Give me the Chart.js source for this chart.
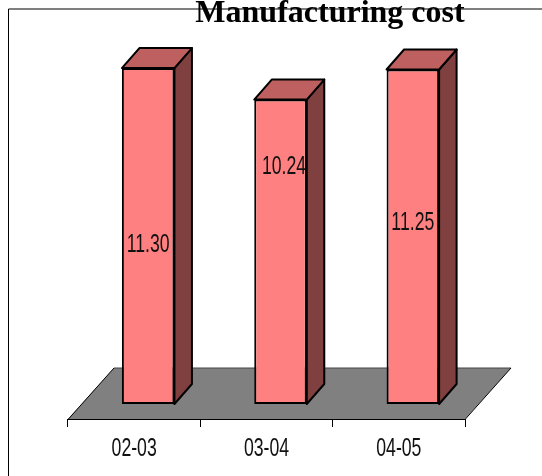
<!DOCTYPE html>
<html>
<head>
<meta charset="utf-8">
<style>
  html, body { margin: 0; padding: 0; background: #fff; }
  canvas { display: block; }
</style>
<script src="https://cdn.jsdelivr.net/npm/chart.js@4"></script>
</head>
<body>
<canvas id="chart" width="542" height="476"></canvas>
<script>
// Values
const chartTitle = "Manufacturing cost";
const years = ["02-03", "03-04", "04-05"];
const costs = [11.3, 10.24, 11.25];

// Hand placed value labels, px from the middle of each bar
const labelShiftX = [0, 3.5, 0];
const labelShiftY = [8.5, -85, -13.5];

// Fake 3D depth
const floorDepth = { x: 46, y: 51 };
const barDepth = { x: 17.5, y: 20 };
const barLift = { x: 14, y: -15 };

// Narrow tall text like the original picture
function tallText(ctx, text, x, y) {
  ctx.save();
  ctx.translate(x, y);
  ctx.scale(0.68, 1);
  ctx.font = "26px 'Liberation Sans'";
  ctx.fillStyle = "#111";
  ctx.textAlign = "center";
  ctx.textBaseline = "middle";
  ctx.fillText(text, 0, 0);
  ctx.restore();
}

function poly(ctx, points, fill, stroke, width) {
  ctx.beginPath();
  points.forEach((p, i) => (i ? ctx.lineTo(p[0], p[1]) : ctx.moveTo(p[0], p[1])));
  ctx.closePath();
  ctx.fillStyle = fill;
  ctx.fill();
  if (stroke) {
    ctx.lineWidth = width;
    ctx.lineJoin = "round";
    ctx.strokeStyle = stroke;
    ctx.stroke();
  }
}

const box3d = {
  id: "box3d",
  beforeDraw(chart) {
    const ctx = chart.ctx;
    ctx.save();
    ctx.fillStyle = "#fff";
    ctx.fillRect(0, 0, chart.width, chart.height);

    // Outer frame, open to the right and bottom
    ctx.strokeStyle = "#000";
    ctx.lineWidth = 1;
    ctx.beginPath();
    ctx.moveTo(8.5, chart.height);
    ctx.lineTo(8.5, 9);
    ctx.lineTo(chart.width, 9);
    ctx.stroke();

    // Floor
    const { left, right, bottom } = chart.chartArea;
    poly(ctx, [
      [left, bottom],
      [right, bottom],
      [right + floorDepth.x, bottom - floorDepth.y],
      [left + floorDepth.x, bottom - floorDepth.y],
    ], "#808080");
    ctx.strokeStyle = "#444";
    ctx.lineWidth = 1;
    ctx.beginPath();
    ctx.moveTo(left + floorDepth.x, bottom - floorDepth.y);
    ctx.lineTo(right + floorDepth.x, bottom - floorDepth.y);
    ctx.stroke();
    ctx.strokeStyle = "#000";
    ctx.beginPath();
    ctx.moveTo(left + floorDepth.x, bottom - floorDepth.y);
    ctx.lineTo(left, bottom + 0.5);
    ctx.lineTo(right, bottom + 0.5);
    ctx.lineTo(right + floorDepth.x, bottom - floorDepth.y);
    ctx.stroke();
    ctx.restore();
  },
  beforeDatasetsDraw(chart) {
    const ctx = chart.ctx;
    ctx.save();
    // Bars stand in the middle of the floor, not on its front edge
    ctx.translate(barLift.x, barLift.y);
    chart.getDatasetMeta(0).data.forEach((bar) => {
      const l = bar.x - bar.width / 2;
      const r = bar.x + bar.width / 2;
      const dx = barDepth.x;
      const dy = barDepth.y;
      poly(ctx, [[r, bar.y], [r + dx, bar.y - dy], [r + dx, bar.base - dy], [r, bar.base]], "#804040", "#000", 2);
      poly(ctx, [[l, bar.y], [l + dx, bar.y - dy], [r + dx, bar.y - dy], [r, bar.y]], "#BF6060", "#000", 2);
    });
  },
  afterDatasetsDraw(chart) {
    const ctx = chart.ctx;
    chart.getDatasetMeta(0).data.forEach((bar, i) => {
      const mid = (bar.y + bar.base) / 2;
      tallText(ctx, costs[i].toFixed(2), bar.x + labelShiftX[i], mid + labelShiftY[i]);
    });
    ctx.restore();
  },
  afterDraw(chart) {
    const ctx = chart.ctx;
    const xScale = chart.scales.x;
    years.forEach((year, i) => {
      tallText(ctx, year, xScale.getPixelForValue(i), 449);
    });
    ctx.save();
    ctx.font = "bold 32px 'Liberation Serif'";
    ctx.fillStyle = "#000";
    ctx.textAlign = "center";
    ctx.textBaseline = "alphabetic";
    ctx.fillText(chartTitle, 330, 22);
    ctx.restore();
  },
};

new Chart(document.getElementById("chart"), {
  type: "bar",
  data: {
    labels: years,
    datasets: [
      {
        data: costs,
        backgroundColor: "#FF8080",
        borderColor: "#000",
        borderWidth: 2,
        borderSkipped: false,
        barPercentage: 0.397,
        categoryPercentage: 1,
      },
    ],
  },
  options: {
    responsive: false,
    animation: false,
    layout: { padding: { left: 68, right: 77, top: 32.5, bottom: 49 } },
    scales: {
      x: {
        grid: { drawOnChartArea: false, tickLength: 8, tickColor: "#000" },
        border: { display: false },
        ticks: { display: false },
      },
      y: {
        display: false,
        min: 0,
        max: 13,
      },
    },
    plugins: {
      legend: { display: false },
      tooltip: { enabled: false },
    },
  },
  plugins: [box3d],
});
</script>
</body>
</html>
